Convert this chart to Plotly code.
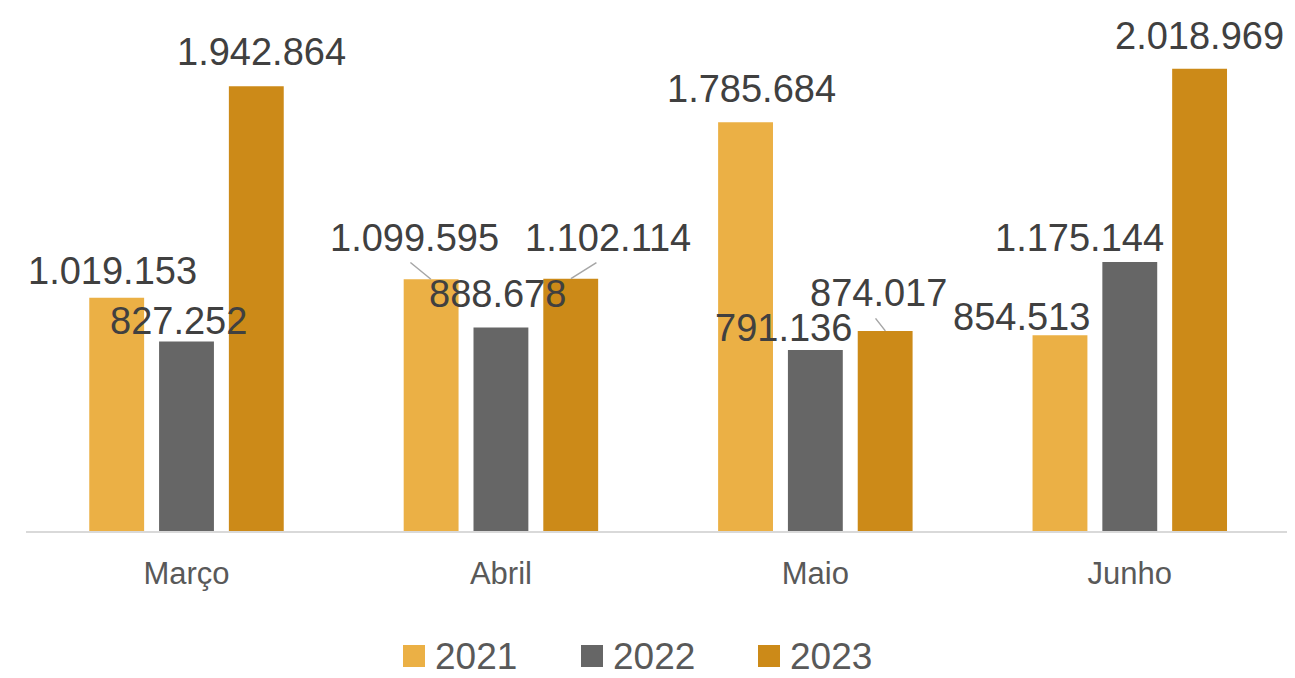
import plotly.graph_objects as go

months = ["Março", "Abril", "Maio", "Junho"]
series_names = ["2021", "2022", "2023"]
values_2021 = [1019153, 1099595, 1785684, 854513]
values_2022 = [827252, 888678, 791136, 1175144]
values_2023 = [1942864, 1102114, 874017, 2018969]
label_texts_2021 = ["1.019.153", "1.099.595", "1.785.684", "854.513"]
label_texts_2022 = ["827.252", "888.678", "791.136", "1.175.144"]
label_texts_2023 = ["1.942.864", "1.102.114", "874.017", "2.018.969"]

colors = ["#EBB045", "#666666", "#CC8A18"]
all_values = [values_2021, values_2022, values_2023]
all_texts = [label_texts_2021, label_texts_2022, label_texts_2023]

# label offsets (pixels) of label centre relative to bar top centre: (dx, dy)
label_offsets = [
    [(-4, -27), (-16, -41), (6, -33), (-38, -18)],
    [(-8, -21), (-3, -34), (-32, -22), (-50, -24)],
    [(5, -34), (37, -41), (-7, -38), (0, -33)],
]
# leader lines: (series index, month index, ax, ay)
leaders = [(0, 1, -22, -18), (2, 1, 27, -17), (2, 2, -11, -14)]

slot = 70
bar_shift = [-slot, 0, slot]

W, H = 1295, 678
ML, MR, MT, MB = 26, 8, 20, 147
PW, PH = W - ML - MR, H - MT - MB


def px_x(px):
    return (px - ML) / PW


def px_y(py):
    return (H - MB - py) / PH


# manual legend layout (pixels): swatch left edges, swatch size, centre y
legend_swatch_left = [403, 581, 758]
legend_swatch_size = 22
legend_cy = 656

fig = go.Figure()
for i, name in enumerate(series_names):
    fig.add_trace(go.Bar(
        x=months, y=all_values[i], name=name,
        marker=dict(color=colors[i], line=dict(width=0)),
        hoverinfo="skip", showlegend=False,
    ))

annotations = []
for i in range(3):
    for j, m in enumerate(months):
        dx, dy = label_offsets[i][j]
        annotations.append(dict(
            x=m, y=all_values[i][j], xref="x", yref="y",
            text=all_texts[i][j], showarrow=False,
            xshift=bar_shift[i] + dx, yshift=-dy,
            xanchor="center", yanchor="middle",
            font=dict(family="Liberation Sans, Arial, sans-serif", size=38, color="#404040"),
        ))
for i, j, ax, ay in leaders:
    annotations.append(dict(
        x=months[j], y=all_values[i][j], xref="x", yref="y",
        text="", showarrow=True, arrowhead=0, arrowwidth=1.5, arrowcolor="#A6A6A6",
        ax=ax, ay=ay, xshift=bar_shift[i],
    ))

shapes = []
for i, name in enumerate(series_names):
    x0 = legend_swatch_left[i]
    s = legend_swatch_size
    shapes.append(dict(
        type="rect", xref="paper", yref="paper",
        x0=px_x(x0), x1=px_x(x0 + s),
        y0=px_y(legend_cy + s / 2), y1=px_y(legend_cy - s / 2),
        fillcolor=colors[i], line=dict(width=0), layer="above",
    ))
    annotations.append(dict(
        xref="paper", yref="paper", x=px_x(x0 + s + 8), y=px_y(legend_cy),
        xanchor="left", yanchor="middle", showarrow=False, text=name,
        font=dict(family="Liberation Sans, Arial, sans-serif", size=37, color="#595959"),
    ))

fig.update_layout(
    width=W, height=H,
    margin=dict(l=ML, r=MR, t=MT, b=MB, autoexpand=False),
    paper_bgcolor="white", plot_bgcolor="white",
    barmode="group", bargap=0.334, bargroupgap=0.214,
    font=dict(family="Liberation Sans, Arial, sans-serif", color="#595959"),
    xaxis=dict(
        showgrid=False, showline=True, linecolor="#D9D9D9", linewidth=2,
        ticks="", tickfont=dict(size=31, color="#595959"), ticklabelstandoff=14,
    ),
    yaxis=dict(range=[0, 2232000], visible=False, showgrid=False, zeroline=False),
    annotations=annotations,
    shapes=shapes,
    showlegend=False,
)

fig.write_html(
    "out.html",
    config={"displayModeBar": False},
    post_script="document.body.style.margin='0';document.body.style.overflow='hidden';",
)
